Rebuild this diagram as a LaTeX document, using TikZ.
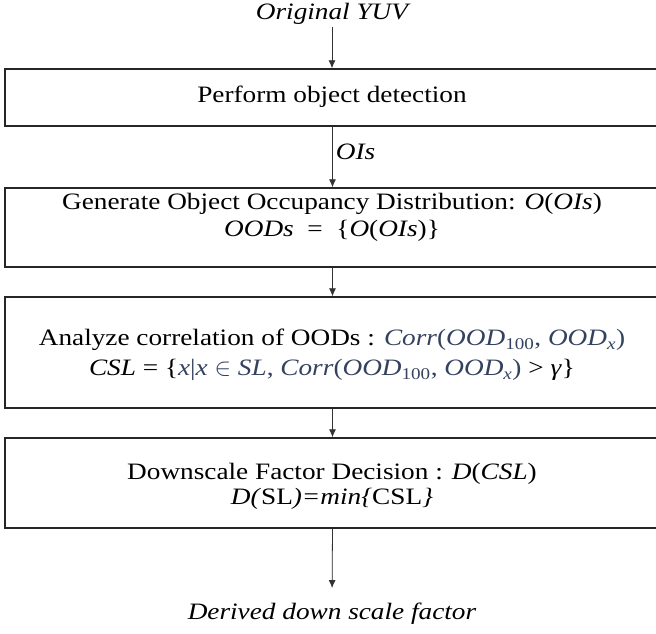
\documentclass[tikz,border=0pt]{standalone}
\usepackage{fontspec}
\setmainfont{Liberation Serif}[FakeStretch=1.16]
\usetikzlibrary{arrows.meta}
\definecolor{corrblue}{HTML}{34425F}

\tikzset{
  stepbox/.style={draw=black!85, line width=1.5pt, minimum width=655pt, inner sep=0pt},
  flow/.style={-{Latex[length=8pt,width=7pt]}, line width=0.8pt, draw=black!80, fill=black!80},
  boxtext/.style={align=center, font=\fontsize{23.5}{25}\selectfont, inner sep=0pt},
  endtext/.style={font=\fontsize{23.5}{25}\selectfont\itshape, inner sep=2pt},
}

\begin{document}
\begin{tikzpicture}[x=1pt,y=-1pt]
\useasboundingbox (0,0) rectangle (656,633);

% the four steps (frames first, text on top)
\node[stepbox, minimum height=57pt]  (detect) at (332.5,97.5)  {};
\node[stepbox, minimum height=79pt]  (ood)    at (332.5,227.5) {};
\node[stepbox, minimum height=111pt] (corr)   at (332.5,352.5) {};
\node[stepbox, minimum height=90pt]  (decide) at (332.5,483)   {};

\node[boxtext] (detecttext) at (332,97) {Perform object detection};
\node[boxtext] (oodtext) at (332,217)
  {Generate Object Occupancy Distribution: \textit{O}(\textit{OIs})\\[2pt]
   \textit{OODs}\ \ =\ \ \{\textit{O}(\textit{OIs})\}};
\node[boxtext] (corrtext) at (332,355)
  {Analyze correlation of OODs : \textcolor{corrblue}{\textit{Corr}(\textit{OOD}\textsubscript{100}, \textit{OOD}\textsubscript{\textit{x}})}\\[5pt]
   \textit{CSL} = \{\textcolor{corrblue}{\textit{x}|\textit{x} $\in$ \textit{SL}, \textit{Corr}(\textit{OOD}\textsubscript{100}, \textit{OOD}\textsubscript{\textit{x}})} > \textit{γ}\}};
\node[boxtext] (decidetext) at (332,486)
  {Downscale Factor Decision : \textit{D}(\textit{CSL})\\
   \textit{D(}SL\textit{)=min\{}CSL\textit{\}}};

% input and output
\node[endtext] (yuv)    at (332,14)  {Original YUV};
\node[endtext] (factor) at (332,614) {Derived down scale factor};

% arrows
\draw[flow] (yuv.south) -- (yuv.south |- detect.north);
\draw[flow] (detect.south) -- (ood.north)
  node[pos=0.42, right, inner sep=3pt, font=\fontsize{23.5}{25}\selectfont\itshape] (ois) {OIs};
\draw[flow] (ood.south) -- (corr.north);
\draw[flow] (corr.south) -- (decide.north);
\draw[flow, shorten >=13pt] (decide.south) -- (factor.north);
\end{tikzpicture}
\end{document}
